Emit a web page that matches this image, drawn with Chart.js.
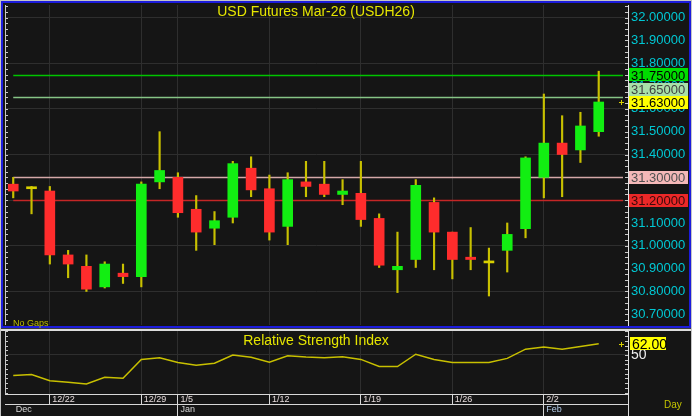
<!DOCTYPE html>
<html>
<head>
<meta charset="utf-8">
<script src="https://cdn.jsdelivr.net/npm/chart.js@4.4.1/dist/chart.umd.min.js"></script>
<style>
html, body { margin: 0; padding: 0; }
body { width: 692px; height: 416px; background: #c4c4c4; position: relative; overflow: hidden;
       font-family: Arial, "Liberation Sans", sans-serif; }
#top { position: absolute; left: 1px; top: 1px; width: 690px; height: 327px; box-sizing: border-box;
       border: 2px solid #1c1cdc; background: #151515; }
#sep1 { position: absolute; left: 1px; top: 328px; width: 690px; height: 1px; background: #3c3c3c; }
#sep2 { position: absolute; left: 1px; top: 329px; width: 690px; height: 2px; background: #dcdcdc; }
#bot { position: absolute; left: 1px; top: 331px; width: 690px; height: 85px; background: #151515; }
#axisExt { position: absolute; left: 628px; top: 394px; width: 1px; height: 22px; background: #dcdcdc; }
canvas { display: block; }
.txt { position: absolute; white-space: nowrap; }
#title { left: 0; width: 632px; top: 3px; text-align: center; font-size: 14px; line-height: 16px; color: #e6e600; }
#gaps { left: 13px; top: 318px; font-size: 9px; line-height: 10px; color: #bcbc00; }
#rsiTitle { left: 0; width: 632px; top: 332px; text-align: center; font-size: 14px; line-height: 16px; color: #e6e600; }
#day { left: 664px; top: 399px; font-size: 10px; line-height: 12px; color: #c4c400; }
</style>
</head>
<body>
<div id="top"><canvas id="main" width="686" height="323"></canvas></div>
<div id="sep1"></div>
<div id="sep2"></div>
<div id="bot"><canvas id="rsi" width="690" height="85"></canvas></div>
<div id="axisExt"></div>
<div class="txt" id="title">USD Futures Mar-26 (USDH26)</div>
<div class="txt" id="gaps">No Gaps</div>
<div class="txt" id="rsiTitle">Relative Strength Index</div>
<div class="txt" id="day">Day</div>
<script>
// daily candles, 12/18 .. 2/5
let open  = [31.27, 31.25, 31.24, 30.96, 30.91, 30.82, 30.88, 30.865, 31.28, 31.30, 31.16,
             31.077, 31.125, 31.34, 31.25, 31.085, 31.28, 31.27, 31.225, 31.23, 31.12, 30.895,
             30.94, 31.19, 31.06, 30.95, 30.925, 30.98, 31.075, 31.30, 31.45, 31.42, 31.50];
let high  = [31.30, 31.26, 31.26, 30.98, 30.96, 30.93, 30.92, 31.28, 31.50, 31.32, 31.22,
             31.15, 31.37, 31.39, 31.31, 31.32, 31.37, 31.37, 31.29, 31.37, 31.14, 31.06,
             31.29, 31.21, 31.06, 31.08, 30.99, 31.10, 31.39, 31.665, 31.57, 31.585, 31.765];
let low   = [31.21, 31.14, 30.92, 30.86, 30.80, 30.815, 30.835, 30.82, 31.25, 31.125, 30.98,
             31.005, 31.10, 31.215, 31.025, 31.005, 31.215, 31.215, 31.18, 31.085, 30.905, 30.795,
             30.905, 30.895, 30.855, 30.895, 30.78, 30.885, 31.035, 31.21, 31.215, 31.365, 31.48];
let close = [31.24, 31.25, 30.96, 30.92, 30.81, 30.92, 30.865, 31.27, 31.33, 31.145, 31.06,
             31.11, 31.36, 31.245, 31.06, 31.29, 31.26, 31.225, 31.24, 31.115, 30.915, 30.91,
             31.265, 31.06, 30.94, 30.94, 30.925, 31.05, 31.385, 31.45, 31.40, 31.525, 31.63];

// relative strength index, one value per candle
let rsi = [28.2, 29.3, 22.7, 20.9, 19.1, 26.3, 25.3, 45.3, 47.1, 42.0, 39.1,
           41.3, 50.0, 47.5, 42.4, 49.2, 47.8, 47.1, 48.2, 45.3, 37.7, 37.7,
           50.8, 45.3, 42.0, 42.0, 42.0, 46.4, 56.2, 58.4, 56.2, 59.1, 62.0];

let priceTicks = [30.7, 30.8, 30.9, 31.0, 31.1, 31.2, 31.3, 31.4, 31.5, 31.6, 31.7, 31.8, 31.9, 32.0];
let weekIdx = [2, 7, 9, 14, 19, 24, 29];
let weekLabels = ["12/22", "12/29", "1/5", "1/12", "1/19", "1/26", "2/2"];
let monthIdx = [0, 9, 29];
let monthLabels = ["Dec", "Jan", "Feb"];
let levels = [31.75, 31.65, 31.30, 31.20];

let levelLine = ["#00c400", "#86c486", "#d4a8a8", "#c42626"];
let levelBox  = ["#00dc00", "#a8e0a8", "#f4b8b8", "#ec2828"];
let levelText = ["#000000", "#404040", "#505050", "#3a0a0a"];

Chart.defaults.font.family = 'Arial, "Liberation Sans", sans-serif';

const XMIN = -0.45, XMAX = 33.6;

function noPad(s) {
    s.paddingTop = 0; s.paddingBottom = 0; s.paddingLeft = 0; s.paddingRight = 0;
}

function drawTags(ctx, x, w, h, font, tags) {
    tags.sort((a, b) => b.py - a.py);
    let prev = Infinity;
    ctx.font = font;
    ctx.textBaseline = "middle";
    ctx.textAlign = "left";
    tags.forEach(t => {
        let cy = Math.min(t.py, prev - h);
        prev = cy;
        ctx.fillStyle = t.bg;
        ctx.fillRect(x, Math.round(cy - h / 2), w, h);
        ctx.fillStyle = t.fg;
        ctx.fillText(t.text, x + 2, Math.round(cy) + 1);
    });
}

function drawMarker(ctx, x, y) {
    ctx.strokeStyle = "#d8d000";
    ctx.lineWidth = 1;
    ctx.beginPath();
    ctx.moveTo(x - 2, y + 0.5); ctx.lineTo(x + 3, y + 0.5);
    ctx.moveTo(x + 0.5, y - 2); ctx.lineTo(x + 0.5, y + 3);
    ctx.stroke();
}

// small tick marks along the left edge and inside the right axis line
function edgeTicks(ctx, area, scale, step, len) {
    ctx.strokeStyle = "#c8c8c8";
    ctx.lineWidth = 1;
    ctx.beginPath();
    ctx.moveTo(area.left + 0.5, area.top);
    ctx.lineTo(area.left + 0.5, area.bottom);
    let k0 = Math.ceil(scale.min / step), k1 = Math.floor(scale.max / step);
    for (let k = k0; k <= k1; k++) {
        let py = Math.round(scale.getPixelForValue(k * step)) + 0.5;
        ctx.moveTo(area.left, py); ctx.lineTo(area.left + len, py);
        ctx.moveTo(area.right - len, py); ctx.lineTo(area.right, py);
    }
    ctx.stroke();
}

const mainDeco = {
    id: "mainDeco",
    beforeDatasetsDraw(chart) {
        const ctx = chart.ctx, a = chart.chartArea, y = chart.scales.y, x = chart.scales.x;
        ctx.save();
        levels.forEach((v, i) => {
            let py = Math.round(y.getPixelForValue(v)) + 0.5;
            ctx.strokeStyle = levelLine[i];
            ctx.lineWidth = 1.5;
            ctx.beginPath();
            ctx.moveTo(x.getPixelForValue(0), py);
            ctx.lineTo(a.right - 5, py);
            ctx.stroke();
        });
        ctx.restore();
    },
    afterDraw(chart) {
        const ctx = chart.ctx, a = chart.chartArea, y = chart.scales.y;
        ctx.save();
        edgeTicks(ctx, a, y, 0.025, 3);
        let last = close[close.length - 1];
        let tags = levels.map((v, i) => ({py: y.getPixelForValue(v), text: v.toFixed(5), bg: levelBox[i], fg: levelText[i]}));
        tags.push({py: y.getPixelForValue(last), text: last.toFixed(5), bg: "#ffff00", fg: "#000000"});
        drawTags(ctx, a.right + 1, 59, 13, "13px Arial, 'Liberation Sans', sans-serif", tags);
        drawMarker(ctx, a.right - 7, Math.round(y.getPixelForValue(last)));
        ctx.restore();
    }
};

const rsiDeco = {
    id: "rsiDeco",
    afterDraw(chart) {
        const ctx = chart.ctx, a = chart.chartArea, y = chart.scales.y;
        ctx.save();
        edgeTicks(ctx, a, y, 5, 3);
        let last = rsi[rsi.length - 1];
        drawTags(ctx, a.right + 2, 36, 13, "14px Arial, 'Liberation Sans', sans-serif",
                 [{py: y.getPixelForValue(last), text: last.toFixed(2), bg: "#ffff00", fg: "#000000"}]);
        drawMarker(ctx, a.right - 7, Math.round(y.getPixelForValue(last)));
        ctx.restore();
    }
};

function candleColor(i) {
    if (close[i] > open[i]) return "#12ee12";
    if (close[i] < open[i]) return "#ff2c2c";
    return "#d8d000";
}

new Chart(document.getElementById("main"), {
    type: "bar",
    data: {
        datasets: [
            {label: "wick", data: low.map((l, i) => ({x: i, y: [l, high[i]]})),
             backgroundColor: "#c8c000", barThickness: 1.5, grouped: false, order: 2},
            {label: "body", data: open.map((o, i) => ({x: i, y: [o, close[i]]})),
             backgroundColor: c => candleColor(c.dataIndex), barThickness: 10, minBarLength: 2,
             grouped: false, order: 1}
        ]
    },
    options: {
        responsive: false, animation: false, events: [],
        layout: {padding: {left: 2, top: 2, bottom: 1, right: 0}},
        plugins: {legend: {display: false}, tooltip: {enabled: false}},
        scales: {
            x: {type: "linear", min: XMIN, max: XMAX, offset: false,
                grid: {color: "#2e2e2e", offset: false, drawTicks: false},
                border: {display: false}, ticks: {display: false},
                afterBuildTicks: s => { s.ticks = weekIdx.map(v => ({value: v})); },
                afterFit: s => { s.height = 0; noPad(s); }},
            y: {position: "right", min: 30.653, max: 32.055,
                grid: {color: c => (c.tick && Math.round(c.tick.value * 10) % 2 === 0) ? "#2e2e2e" : "rgba(0,0,0,0)", drawTicks: false},
                border: {color: "#e4e4e4"},
                ticks: {color: "#00c8d4", font: {size: 13}, padding: 3, autoSkip: false,
                        callback: v => Number(v).toFixed(5)},
                afterBuildTicks: s => { s.ticks = priceTicks.map(v => ({value: v})); },
                afterFit: s => { s.width = 61; noPad(s); }}
        }
    },
    plugins: [mainDeco]
});

new Chart(document.getElementById("rsi"), {
    type: "line",
    data: {
        datasets: [{data: rsi.map((v, i) => ({x: i, y: v})), borderColor: "#c8c000", borderWidth: 1.5,
                    pointRadius: 0, tension: 0}]
    },
    options: {
        responsive: false, animation: false, events: [],
        layout: {padding: {left: 4, top: 0, right: 0, bottom: 0}},
        plugins: {legend: {display: false}, tooltip: {enabled: false}},
        scales: {
            x: {type: "linear", position: "bottom", weight: 0, min: XMIN, max: XMAX, offset: false,
                grid: {color: "#2e2e2e", tickColor: "#d8d8d8", tickLength: 10},
                border: {color: "#d8d8d8"},
                ticks: {color: "#e6dcdc", font: {size: 9}, align: "start", padding: -10,
                        maxRotation: 0, minRotation: 0, autoSkip: false,
                        callback: (v, i) => " " + weekLabels[i]},
                afterBuildTicks: s => { s.ticks = weekIdx.map(v => ({value: v})); },
                afterFit: s => { s.height = 10; noPad(s); }},
            x2: {type: "linear", position: "bottom", axis: "x", weight: 1, min: XMIN, max: XMAX, offset: false,
                 grid: {drawOnChartArea: false, tickColor: c => c.index === 0 ? "rgba(0,0,0,0)" : "#d8d8d8", tickLength: 12},
                 border: {color: "#d8d8d8"},
                 ticks: {color: c => c.index === 2 ? "#b4cce8" : "#d8d8d8", font: {size: 9}, align: "start", padding: -12,
                         maxRotation: 0, minRotation: 0, autoSkip: false,
                         callback: (v, i) => " " + monthLabels[i]},
                 afterBuildTicks: s => { s.ticks = monthIdx.map(v => ({value: v})); },
                 afterFit: s => { s.height = 12; noPad(s); }},
            y: {position: "right", min: 8.5, max: 75.5,
                grid: {color: "#2e2e2e", drawTicks: false},
                border: {color: "#e4e4e4"},
                ticks: {color: "#f0f0f0", font: {size: 14}, padding: 3, autoSkip: false,
                        callback: v => String(v)},
                afterBuildTicks: s => { s.ticks = [{value: 50}]; },
                afterFit: s => { s.width = 63; noPad(s); }}
        }
    },
    plugins: [rsiDeco]
});
</script>
</body>
</html>
